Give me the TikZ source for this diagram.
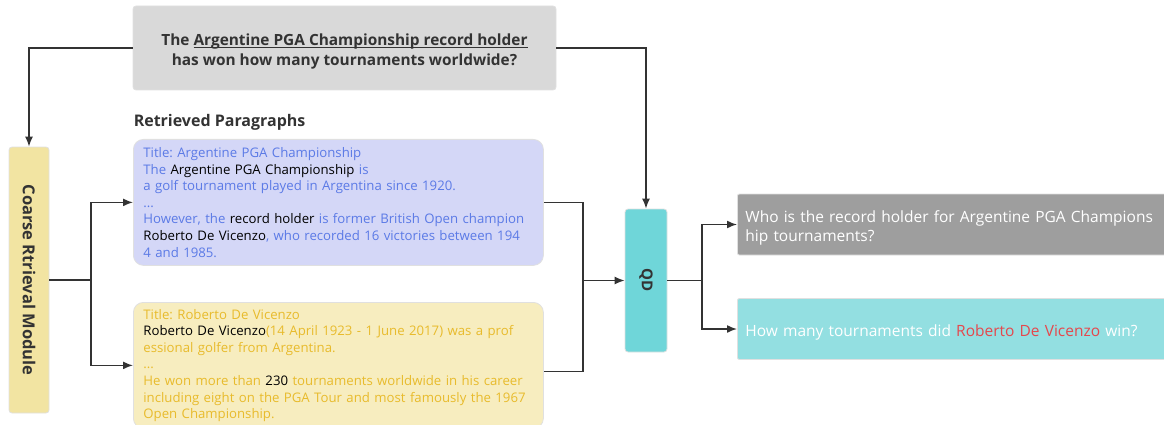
\documentclass[tikz,border=0pt]{standalone}
\usepackage{fontspec}
\usepackage{graphicx}
\setmainfont{Open Sans}
\frenchspacing
\newcommand{\qline}[1]{\setbox0\hbox{#1}\rlap{\rule[-2.2pt]{\wd0}{0.9pt}}\box0}
\newcommand{\lowtext}[3]{\raisebox{-#1}[\height][\depth]{\begin{tabular}{@{}#2@{}}#3\end{tabular}}}
\usetikzlibrary{arrows.meta}
\definecolor{linec}{HTML}{333333}
\definecolor{qgray}{HTML}{D9D9D9}
\definecolor{modyellow}{HTML}{F2E4A2}
\definecolor{parablue}{HTML}{D4D7F7}
\definecolor{bluetext}{HTML}{5B7AE6}
\definecolor{parayellow}{HTML}{F7EDBF}
\definecolor{yellowtext}{HTML}{E8BB2C}
\definecolor{qdteal}{HTML}{6FD6D9}
\definecolor{subgray}{HTML}{9E9E9E}
\definecolor{subteal}{HTML}{93DFE1}
\definecolor{redtext}{HTML}{E5484D}

\begin{document}
\begin{tikzpicture}[x=1pt, y=-1pt, line width=1.5pt, draw=linec,
    >={Latex[length=10pt,width=8pt]},
    box/.style={draw=black!12, line width=0.8pt, rounded corners=3pt, inner sep=0pt},
    para/.style={box, rounded corners=10pt, anchor=north west, minimum height=126pt,
        text width=390pt, inner xsep=10pt, align=left, font=\fontsize{13.2}{16.6}\selectfont},
    sub/.style={box, rounded corners=2pt, anchor=west, minimum height=61pt, text=white,
        text width=424pt, inner xsep=8pt, align=left, font=\fontsize{15.5}{19}\selectfont}]
    \useasboundingbox (0,0) rectangle (1164,425);

    % question and retrieved paragraphs
    \node[box, fill=qgray, minimum width=423pt, minimum height=84pt,
        text=linec, font=\fontsize{15.4}{20}\selectfont\bfseries] (question) at (344.5,48)
        {\lowtext{4pt}{c}{The \qline{Argentine PGA Championship record holder}\\has won how many tournaments worldwide?}};
    \node[anchor=west, inner sep=0pt, text=linec, font=\fontsize{16}{18}\selectfont\bfseries]
        (retrieved) at (133,122) {Retrieved Paragraphs};
    \node[box, fill=modyellow, minimum width=40pt, minimum height=266pt, text=linec,
        font=\fontsize{16.5}{18}\selectfont\bfseries] (module) at (29,280)
        {\rotatebox{-90}{Coarse Rtrieval Module}};

    \node[para, fill=parablue, text=bluetext] (blue) at (133,139)
        {Title: Argentine PGA Championship\\
        The \textcolor{black}{Argentine PGA Championship} is\\
        a golf tournament played in Argentina since 1920.\\
        ...\\
        However, the \textcolor{black}{record holder} is former British Open champion\\
        \textcolor{black}{Roberto De Vicenzo}, who recorded 16 victories between 194\\
        4 and 1985.};
    \node[para, fill=parayellow, text=yellowtext] (yellow) at (133,302)
        {Title: Roberto De Vicenzo\\
        \textcolor{black}{Roberto De Vicenzo}(14 April 1923 - 1 June 2017) was a prof\\
        essional golfer from Argentina.\\
        ...\\
        He won more than \textcolor{black}{230} tournaments worldwide in his career\\
        including eight on the PGA Tour and most famously the 1967\\
        Open Championship.};

    % decomposition
    \node[box, fill=qdteal, minimum width=42pt, minimum height=143pt, text=linec,
        font=\fontsize{15}{18}\selectfont\bfseries] (qd) at (646,280.5) {\rotatebox{-90}{QD}};
    \node[sub, fill=subgray] (sub1) at (737,224.5)
        {\lowtext{4pt}{l}{Who is the record holder for Argentine PGA Champions\\hip tournaments?}};
    \node[sub, fill=subteal] (sub2) at (737,329)
        {\lowtext{4pt}{l}{How many tournaments did \textcolor{redtext}{Roberto De Vicenzo} win?}};

    \coordinate (s1) at (91,280);
    \coordinate (s2) at (583,280.5);
    \coordinate (s3) at (702,280.5);

    \draw[->] (question.west) -| (module.north);
    \draw[->] (question.east) -| (qd.north);
    \draw (module.east) -- (s1);
    \draw[->] (s1) |- (blue.west);
    \draw[->] (s1) |- (yellow.west);
    \draw (blue.east) -| (s2);
    \draw ([yshift=-6pt]yellow.east) -| (s2);
    \draw[->] (s2) -- (qd.west);
    \draw (qd.east) -- (s3);
    \draw[->] (s3) |- (sub1.west);
    \draw[->] (s3) |- (sub2.west);
\end{tikzpicture}
\end{document}
